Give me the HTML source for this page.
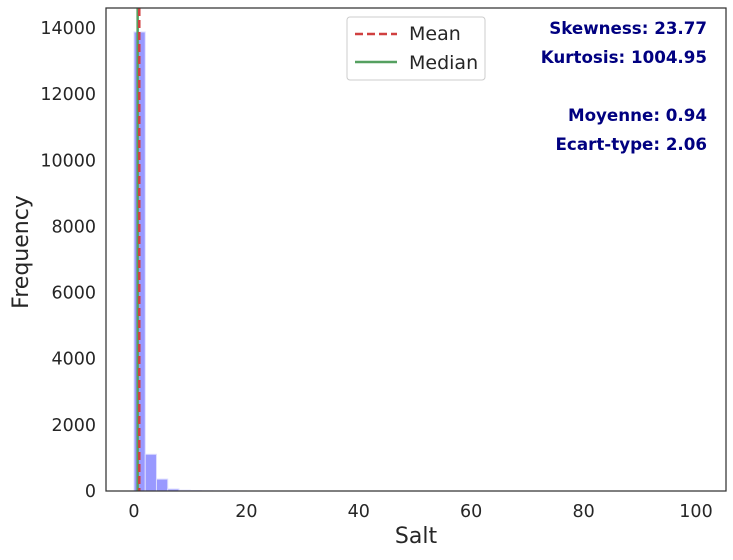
<!DOCTYPE html>
<html><head><meta charset="utf-8"><style>
body{margin:0;background:#fff;font-family:"DejaVu Sans","Liberation Sans",sans-serif;}
</style></head><body>
<svg width="733" height="556" xmlns="http://www.w3.org/2000/svg" font-family="DejaVu Sans, Liberation Sans, sans-serif">
<g id="bars"></g>
<g id="lines"></g>
<rect x="106" y="8" width="620" height="483" fill="none" stroke="#333" stroke-width="1.25"/>
<g id="xt" font-size="17.5" fill="#262626" text-anchor="middle"></g>
<g id="yt" font-size="17.5" fill="#262626" text-anchor="end"></g>
<text x="416" y="543" font-size="22" fill="#262626" text-anchor="middle">Salt</text>
<text transform="translate(28,252) rotate(-90)" font-size="22" fill="#262626" text-anchor="middle">Frequency</text>
<g>
<rect x="347" y="17" width="138" height="63" rx="3" fill="#fff" stroke="#ccc" stroke-width="1"/>
<line x1="355" y1="34" x2="397" y2="34" stroke="#d04040" stroke-width="2.5" stroke-dasharray="8,4"/>
<text x="409" y="40" font-size="19" fill="#262626">Mean</text>
<line x1="355" y1="62" x2="397" y2="62" stroke="#55a060" stroke-width="2.5"/>
<text x="409" y="69" font-size="19" fill="#262626">Median</text>
</g>
<g font-size="16.7" font-weight="bold" fill="#000080" text-anchor="end">
<text x="707" y="34">Skewness: 23.77</text>
<text x="707" y="63">Kurtosis: 1004.95</text>
<text x="707" y="121">Moyenne: 0.94</text>
<text x="707" y="150">Ecart-type: 2.06</text>
</g>
</svg>
<script>
const binStarts=[0,2,4,6,8,10,12,14,16,18];
const binCounts=[13880,1110,360,60,25,15,8,5,3,2];
const binWidth=2;
const meanVal=0.94;
const medianVal=0.65;
const xTicks=[0,20,40,60,80,100];
const yTicks=[0,2000,4000,6000,8000,10000,12000,14000];
const ns="http://www.w3.org/2000/svg";
const X=v=>134+v*5.62;
const Y=v=>491-v*(463/14000);
const bars=document.getElementById('bars');
binStarts.forEach((s,i)=>{
 const r=document.createElementNS(ns,'rect');
 r.setAttribute('x',X(s));r.setAttribute('width',X(s+binWidth)-X(s));
 r.setAttribute('y',Y(binCounts[i]));r.setAttribute('height',491-Y(binCounts[i]));
 r.setAttribute('fill','#9999ff');r.setAttribute('stroke','#ddddff');r.setAttribute('stroke-width','1');
 
 
 bars.appendChild(r);
});
const lines=document.getElementById('lines');
const med=document.createElementNS(ns,'line');
med.setAttribute('x1',X(medianVal));med.setAttribute('x2',X(medianVal));med.setAttribute('y1',8);med.setAttribute('y2',491);
med.setAttribute('stroke','#55a060');med.setAttribute('stroke-width','2.5');


lines.appendChild(med);
const mn=document.createElementNS(ns,'line');
mn.setAttribute('x1',X(meanVal));mn.setAttribute('x2',X(meanVal));mn.setAttribute('y1',8);mn.setAttribute('y2',491);
mn.setAttribute('stroke','#d04040');mn.setAttribute('stroke-width','2.5');mn.setAttribute('stroke-dasharray','8,4');


lines.appendChild(mn);
const xt=document.getElementById('xt');
xTicks.forEach(v=>{const t=document.createElementNS(ns,'text');t.setAttribute('x',X(v));t.setAttribute('y',517);t.textContent=v;
 
 
 xt.appendChild(t);});
const yt=document.getElementById('yt');
yTicks.forEach(v=>{const t=document.createElementNS(ns,'text');t.setAttribute('x',96);t.setAttribute('y',Y(v)+6);t.textContent=v;
 
 
 yt.appendChild(t);});
</script>
</body></html>
